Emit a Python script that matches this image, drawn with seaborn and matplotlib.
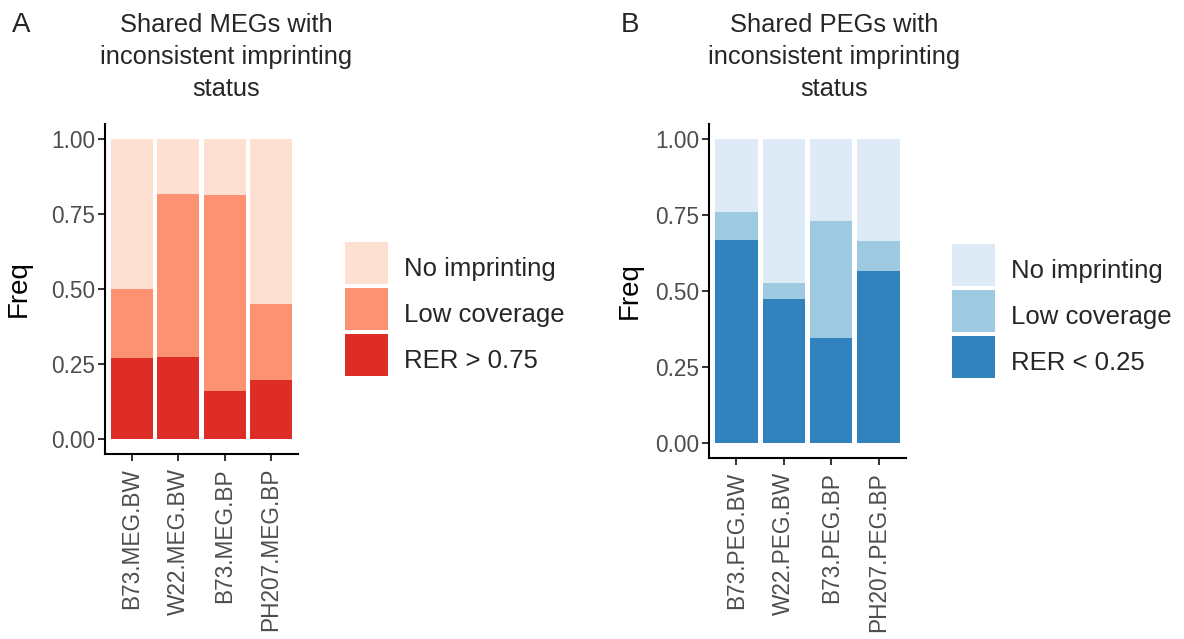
import matplotlib
matplotlib.use("Agg")
import matplotlib.pyplot as plt
from matplotlib.patches import Patch
from matplotlib.transforms import Affine2D
import seaborn as sns
import numpy as np
import pandas as pd

# ---- data ----
meg_cats = ["B73.MEG.BW", "W22.MEG.BW", "B73.MEG.BP", "PH207.MEG.BP"]
meg_rer = [0.269, 0.273, 0.159, 0.196]
meg_low = [0.231, 0.545, 0.654, 0.254]
meg_noimp = [0.500, 0.182, 0.187, 0.550]

peg_cats = ["B73.PEG.BW", "W22.PEG.BW", "B73.PEG.BP", "PH207.PEG.BP"]
peg_rer = [0.667, 0.473, 0.345, 0.565]
peg_low = [0.093, 0.053, 0.385, 0.099]
peg_noimp = [0.240, 0.474, 0.270, 0.336]

legend_labels_meg = ["No imprinting", "Low coverage", "RER > 0.75"]
legend_labels_peg = ["No imprinting", "Low coverage", "RER < 0.25"]
reds = ["#FEE0D2", "#FC9272", "#DE2D26"]
blues = ["#DEEBF7", "#9ECAE1", "#3182BD"]

titles = ["Shared MEGs with\ninconsistent imprinting\nstatus",
          "Shared PEGs with\ninconsistent imprinting\nstatus"]
yticks = [0.00, 0.25, 0.50, 0.75, 1.00]

sns.set_theme(style="white")
plt.rcParams["font.family"] = ["Liberation Sans", "DejaVu Sans"]

W, H = 1184, 639
fig = plt.figure(figsize=(W / 100, H / 100), dpi=100)


def px_axes(l, t, r, b):
    return fig.add_axes([l / W, 1 - b / H, (r - l) / W, (b - t) / H])


def panel(ax, cats, rer, low, noimp, cols, ylabel_x):
    df = pd.DataFrame({"cat": cats, "rer": rer, "low": low, "noimp": noimp})
    df["c1"] = df["rer"]
    df["c2"] = df["rer"] + df["low"]
    df["c3"] = df["rer"] + df["low"] + df["noimp"]
    for col, c in zip(["c3", "c2", "c1"], cols):
        sns.barplot(data=df, x="cat", y=col, color=c, width=0.9, saturation=1,
                    ax=ax, order=cats, linewidth=0, edgecolor="none")
    ax.set_xlim(-0.58, 3.58)
    ax.set_ylim(-0.05, 1.05)
    ax.set_yticks(yticks)
    ax.set_yticklabels([f"{v:.2f}" for v in yticks])
    ax.set_xlabel("")
    ax.set_ylabel("Freq", fontsize=20, color="black")
    ax.yaxis.set_label_coords(ylabel_x, 0.5)
    for s in ["top", "right"]:
        ax.spines[s].set_visible(False)
    for s in ["left", "bottom"]:
        ax.spines[s].set_color("black")
        ax.spines[s].set_linewidth(1.5)
    ax.tick_params(axis="both", which="both", direction="out", length=5,
                   width=1.4, color="#333333", labelcolor="#4D4D4D",
                   labelsize=16.3, bottom=True, left=True)
    ax.tick_params(axis="y", pad=2)
    ax.tick_params(axis="x", pad=5)
    for lab in ax.get_xticklabels():
        lab.set_rotation(90)
        lab.set_ha("center")
        lab.set_va("top")
    ax.grid(False)
    ax.set_facecolor("white")


axA = px_axes(105, 124, 298, 454)
panel(axA, meg_cats, meg_rer, meg_low, meg_noimp, reds, -0.378)
axB = px_axes(709, 124, 906, 458)
panel(axB, peg_cats, peg_rer, peg_low, peg_noimp, blues, -0.335)

fs_leg = 18.5
fpx = fs_leg * 100 / 72
for ax, cols, labels, (lx, ly) in [(axA, reds, legend_labels_meg, (345, 242)),
                                   (axB, blues, legend_labels_peg, (952, 244))]:
    handles = [Patch(facecolor=c, edgecolor="none") for c in cols]
    leg = fig.legend(handles, labels, loc="upper left",
                     bbox_to_anchor=(lx / W, 1 - ly / H), frameon=False,
                     fontsize=fs_leg, handlelength=43 / fpx, handleheight=2.137,
                     labelspacing=4 / fpx, handletextpad=0.62, borderpad=0,
                     borderaxespad=0)
    for t in leg.get_texts():
        t.set_transform(t.get_transform() + Affine2D().translate(0, -5))

fig.text(226 / W, 1 - 13 / H, titles[0], ha="center", va="top",
         fontsize=18.4, linespacing=1.42)
fig.text(834 / W, 1 - 13 / H, titles[1], ha="center", va="top",
         fontsize=18.4, linespacing=1.42)
fig.text(12 / W, 1 - 12 / H, "A", ha="left", va="top", fontsize=20)
fig.text(621 / W, 1 - 12 / H, "B", ha="left", va="top", fontsize=20)

fig.savefig("out.png", dpi=100, facecolor="white")
